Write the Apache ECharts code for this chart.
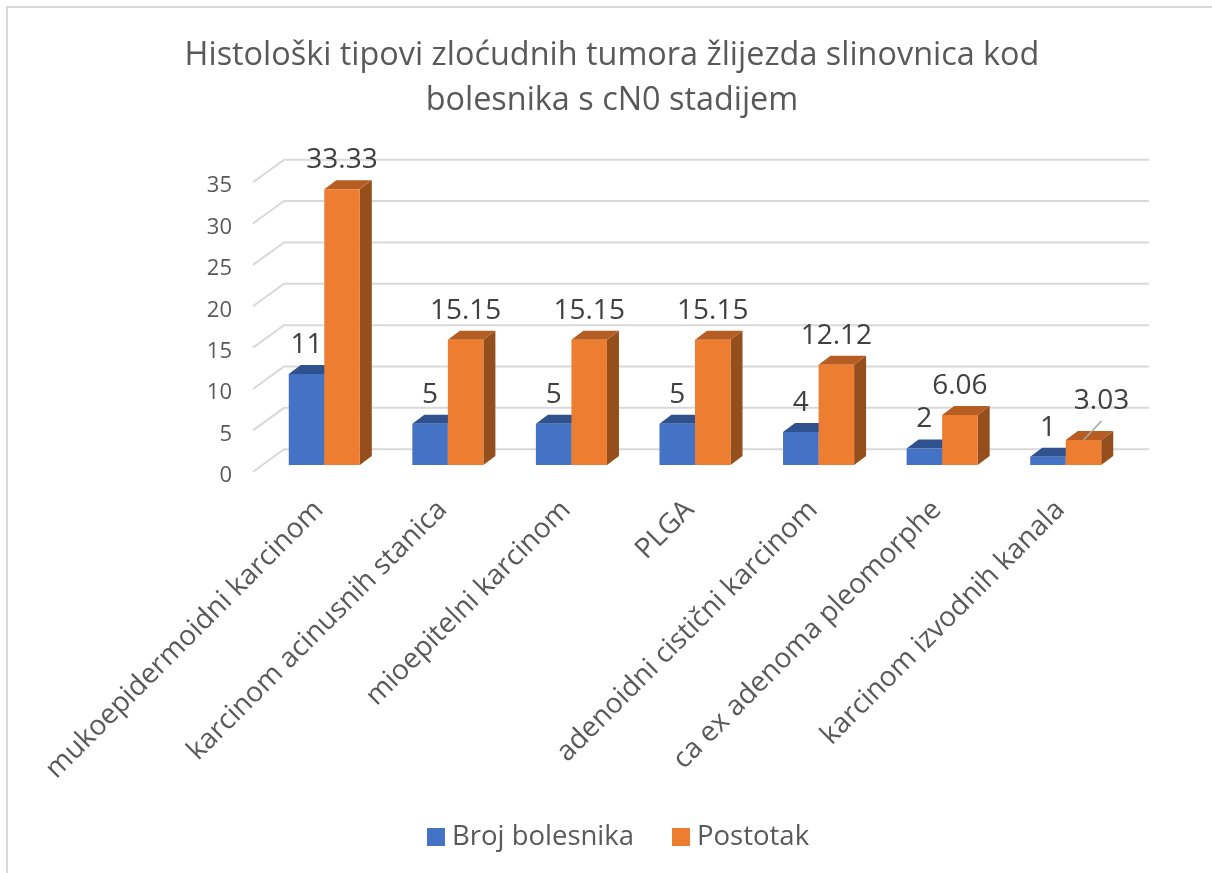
<!DOCTYPE html>
<html><head><meta charset="utf-8">
<script src="https://cdn.jsdelivr.net/npm/echarts@6/dist/echarts.min.js"></script>
<style>html,body{margin:0;padding:0;background:#fff}#c{width:1212px;height:873px}</style>
</head><body><div id="c"></div>
<script>
const categories = ['mukoepidermoidni karcinom','karcinom acinusnih stanica','mioepitelni karcinom','PLGA','adenoidni cistični karcinom','ca ex adenoma pleomorphe','karcinom izvodnih kanala'];
const brojBolesnika = [11,5,5,5,4,2,1];
const postotak = [33.33,15.15,15.15,15.15,12.12,6.06,3.03];
const yTicks = [0,5,10,15,20,25,30,35];

const FONT = '"Open Sans","Noto Sans",sans-serif';
const WALL = [31,-22.5], BAR_PLANE = [9.5,-6.7], BAR_DEPTH = [12,-9];
const BAR_BAND = 0.2875;
const MOVED = {series:1,index:6,dx:18,dy:-10};

function gridLines(params, api){
  const cs = params.coordSys, p = api.coord([0, api.value(1)]);
  const x0 = cs.x, x1 = cs.x + cs.width, y = p[1];
  return {type:'polyline',silent:true,
    shape:{points:[[x0,y],[x0+WALL[0],y+WALL[1]],[x1+WALL[0],y+WALL[1]]]},
    style:{fill:null,stroke:'#d9d9d9',lineWidth:2}};
}
function bars(seriesIdx, front, top, side){
  return function(params, api){
    const idx = params.dataIndex, v = api.value(1);
    const c = api.coord([idx, v]), b = api.coord([idx, 0]);
    const w = api.size([1,0])[0]*BAR_BAND;
    const xl = c[0] + BAR_PLANE[0] + (seriesIdx===0 ? -w : 0), xr = xl + w;
    const yt = c[1] + BAR_PLANE[1], yb = b[1] + BAR_PLANE[1];
    const dx = BAR_DEPTH[0], dy = BAR_DEPTH[1];
    const moved = MOVED.series===seriesIdx && MOVED.index===idx;
    const lx = (xl+xr)/2 + (moved?MOVED.dx:0), ly = yt - 29 + (moved?MOVED.dy:0);
    const children = [
      {type:'polygon',shape:{points:[[xr,yt],[xr+dx,yt+dy],[xr+dx,yb+dy],[xr,yb]]},style:{fill:side}},
      {type:'polygon',shape:{points:[[xl,yt],[xl+dx,yt+dy],[xr+dx,yt+dy],[xr,yt]]},style:{fill:top}},
      {type:'rect',shape:{x:xl,y:yt,width:w,height:yb-yt},style:{fill:front}}
    ];
    if(moved) children.push({type:'line',shape:{x1:(xl+xr)/2,y1:yt,x2:lx,y2:yt-19},style:{stroke:'#a6a6a6',lineWidth:1.5}});
    children.push({type:'text',style:{text:String(v),x:lx,y:ly,align:'center',verticalAlign:'middle',font:'28px '+FONT,fill:'#404040'}});
    return {type:'group',children};
  };
}
const chart = echarts.init(document.getElementById('c'),null,{renderer:'canvas'});
chart.setOption({
  animation:false,
  backgroundColor:'#fff',
  graphic:[{type:'polyline',silent:true,z:0,shape:{points:[[7,873],[7,7],[1212,7]]},style:{fill:null,stroke:'#d9d9d9',lineWidth:2}}],
  title:{text:'Histološki tipovi zloćudnih tumora žlijezda slinovnica kod\nbolesnika s cN0 stadijem',left:607,top:28,
    textAlign:'center',
    textStyle:{fontFamily:FONT,fontSize:32.4,fontWeight:'normal',color:'#595959',lineHeight:45}},
  legend:{data:['Broj bolesnika','Postotak'],left:422,top:818,icon:'rect',itemWidth:18,itemHeight:18,itemGap:38,
    textStyle:{fontFamily:FONT,fontSize:27.5,color:'#595959',padding:[0,0,0,2]}},
  grid:{left:253,top:182.2,width:865,height:289.5,containLabel:false},
  xAxis:{type:'category',data:categories,axisLine:{show:false},axisTick:{show:false},splitLine:{show:false},
    axisLabel:{rotate:45,interval:0,margin:38,fontFamily:FONT,fontSize:28,color:'#595959',padding:[0,-6,0,0]}},
  yAxis:{type:'value',min:0,max:35,interval:5,axisLine:{show:false},axisTick:{show:false},splitLine:{show:false},
    axisLabel:{margin:21,fontFamily:FONT,fontSize:22,color:'#595959',verticalAlign:'top',lineHeight:8}},
  series:[
    {type:'custom',name:'grid',silent:true,z:1,renderItem:gridLines,data:yTicks.map(t=>[0,t]),encode:{x:0,y:1}},
    {type:'custom',name:'Broj bolesnika',z:2,itemStyle:{color:'#4472C4'},renderItem:bars(0,'#4472C4','#2F528F','#2F528F'),data:brojBolesnika.map((v,i)=>[i,v]),encode:{x:0,y:1}},
    {type:'custom',name:'Postotak',z:3,itemStyle:{color:'#ED7D31'},renderItem:bars(1,'#ED7D31','#B55D22','#954F1C'),data:postotak.map((v,i)=>[i,v]),encode:{x:0,y:1}}
  ]
});
</script></body></html>
